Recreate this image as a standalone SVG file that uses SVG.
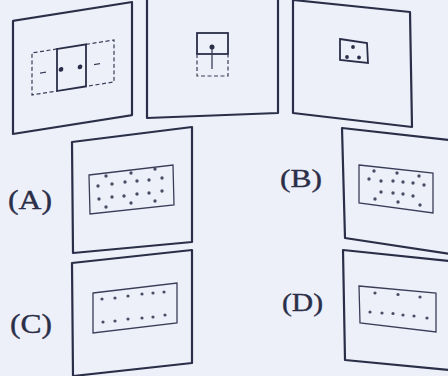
<svg xmlns="http://www.w3.org/2000/svg" width="448" height="376" viewBox="0 0 448 376">
<style>
.frame{fill:none;stroke:#2b2e48;stroke-width:2.2;stroke-linejoin:round}
.solid{fill:none;stroke:#2b2e48;stroke-width:1.8}
.thin{fill:none;stroke:#3a3d58;stroke-width:1.3}
.dash{fill:none;stroke:#3a3d58;stroke-width:1.2;stroke-dasharray:4 2.5}
.dot{fill:#2b2e48}
.sdot{fill:#4a4d66}
.lbl{font-family:"Liberation Serif",serif;fill:#2b2e48;stroke:#2b2e48;stroke-width:0.4}
</style>
<rect width="448" height="376" fill="#eef0f9"/>
<g id="q1" transform="skewY(-9)">
<rect class="frame" x="13" y="23" width="119" height="113"/>
<polyline class="dash" points="57,58 32,58 32,100 57,100"/>
<polyline class="dash" points="86,58 114,58 114,100 86,100"/>
<rect class="solid" x="57" y="58" width="29" height="42"/>
<line class="thin" x1="40" y1="79.5" x2="46" y2="79.5"/>
<line class="thin" x1="94" y1="79.5" x2="100" y2="79.5"/>
<circle class="dot" cx="61" cy="79" r="2.4"/>
<circle class="dot" cx="80" cy="79.5" r="2.4"/>
</g>
<g id="q2">
<polygon class="frame" points="147,-1 278,-1 278,113 147,118"/>
<rect class="solid" x="197" y="33" width="31" height="21"/>
<polyline class="dash" points="197,54 197,76 228,76 228,54"/>
<line class="thin" x1="212" y1="47" x2="212" y2="69"/>
<circle class="dot" cx="212" cy="47" r="2.5"/>
</g>
<g id="q3">
<polygon class="frame" points="293,0 410,12 412,127 293,113"/>
<polygon class="solid" points="340,39 367,43 368,63 340,60"/>
<circle class="dot" cx="353" cy="47" r="1.9"/>
<circle class="dot" cx="347" cy="57" r="1.9"/>
<circle class="dot" cx="359" cy="57.5" r="1.9"/>
</g>
<g id="optA">
<text class="lbl" x="8" y="209" font-size="28" textLength="44" lengthAdjust="spacingAndGlyphs">(A)</text>
<polygon class="frame" points="72,142 192,127 192,242 73,253"/>
<polygon class="thin" points="89,175 173,165 174,205 90,214"/>
<g class="sdot">
<circle cx="106" cy="176" r="1.7"/><circle cx="131" cy="173" r="1.7"/><circle cx="155" cy="169" r="1.7"/>
<circle cx="98" cy="186" r="1.7"/><circle cx="112" cy="184" r="1.7"/><circle cx="125" cy="182" r="1.7"/><circle cx="137" cy="181" r="1.7"/><circle cx="149" cy="180" r="1.7"/><circle cx="162" cy="178" r="1.7"/>
<circle cx="99" cy="199" r="1.7"/><circle cx="112" cy="197" r="1.7"/><circle cx="124" cy="196" r="1.7"/><circle cx="137" cy="194" r="1.7"/><circle cx="149" cy="193" r="1.7"/><circle cx="162" cy="191" r="1.7"/>
<circle cx="106" cy="207" r="1.7"/><circle cx="131" cy="203" r="1.7"/><circle cx="155" cy="201" r="1.7"/>
</g>
</g>
<g id="optB">
<text class="lbl" x="280" y="187" font-size="26" textLength="42" lengthAdjust="spacingAndGlyphs">(B)</text>
<polygon class="frame" points="342,128 450,140 450,254 345,238"/>
<polygon class="thin" points="359,165 433,173 433,213 359,203"/>
<g class="sdot">
<circle cx="374" cy="171" r="1.7"/><circle cx="397" cy="173" r="1.7"/><circle cx="419" cy="176" r="1.7"/>
<circle cx="369" cy="179" r="1.7"/><circle cx="381" cy="181" r="1.7"/><circle cx="393" cy="181" r="1.7"/><circle cx="403" cy="182" r="1.7"/><circle cx="413" cy="183" r="1.7"/><circle cx="424" cy="185" r="1.7"/>
<circle cx="381" cy="192" r="1.7"/><circle cx="393" cy="193" r="1.7"/><circle cx="403" cy="194" r="1.7"/><circle cx="413" cy="196" r="1.7"/>
<circle cx="375" cy="199" r="1.7"/><circle cx="398" cy="202" r="1.7"/><circle cx="420" cy="205" r="1.7"/>
</g>
</g>
<g id="optC">
<text class="lbl" x="10" y="333" font-size="28" textLength="42" lengthAdjust="spacingAndGlyphs">(C)</text>
<polygon class="frame" points="72,263 192,250 192,363 73,376"/>
<polygon class="thin" points="93,293 177,283 177,323 93,333"/>
<g class="sdot">
<circle cx="102" cy="299" r="1.6"/><circle cx="115" cy="298" r="1.6"/><circle cx="128" cy="296" r="1.6"/><circle cx="142" cy="294" r="1.6"/><circle cx="153" cy="293" r="1.6"/><circle cx="164" cy="292" r="1.6"/>
<circle cx="103" cy="322" r="1.6"/><circle cx="115" cy="321" r="1.6"/><circle cx="128" cy="319" r="1.6"/><circle cx="142" cy="318" r="1.6"/><circle cx="153" cy="317" r="1.6"/><circle cx="165" cy="315" r="1.6"/>
</g>
</g>
<g id="optD">
<text class="lbl" x="282" y="311" font-size="26" textLength="41" lengthAdjust="spacingAndGlyphs">(D)</text>
<polygon class="frame" points="343,250 450,261 450,370 345,360"/>
<polygon class="thin" points="359,286 436,293 436,332 360,323"/>
<g class="sdot">
<circle cx="375" cy="293" r="1.6"/><circle cx="398" cy="294.5" r="1.6"/><circle cx="420" cy="297" r="1.6"/>
<circle cx="370" cy="312" r="1.6"/><circle cx="382" cy="313" r="1.6"/><circle cx="393" cy="313.5" r="1.6"/><circle cx="403" cy="315" r="1.6"/><circle cx="414" cy="316" r="1.6"/><circle cx="427" cy="318" r="1.6"/>
</g>
</g>
</svg>
